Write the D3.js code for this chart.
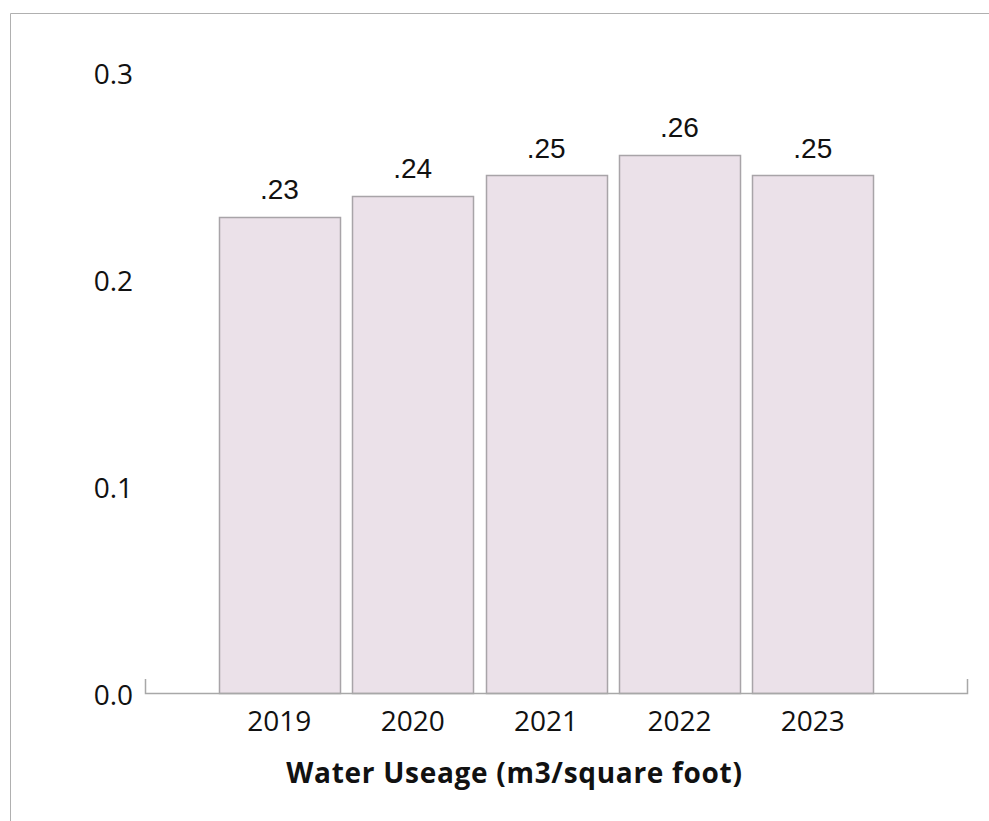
<!DOCTYPE html>
<html><head><meta charset="utf-8">
<script src="https://cdn.jsdelivr.net/npm/d3@7"></script>
<style>body{margin:0;background:#fff;} svg{display:block;}</style>
</head><body>
<svg id="chart" width="989" height="821"></svg>
<script>
const categories = ["2019","2020","2021","2022","2023"];
const values = [0.23,0.24,0.25,0.26,0.25];
const valueLabels = [".23",".24",".25",".26",".25"];
const yTicks = [0.0,0.1,0.2,0.3];
const yTickLabels = ["0.0","0.1","0.2","0.3"];
const axisTitle = "Water Useage (m3/square foot)";

const svg = d3.select("#chart");
// frame
svg.append("line").attr("x1",10.5).attr("x2",989).attr("y1",13.5).attr("y2",13.5).attr("stroke","#b0b0b0");
svg.append("line").attr("x1",10.5).attr("x2",10.5).attr("y1",13.5).attr("y2",821).attr("stroke","#b0b0b0");

const y = d3.scaleLinear().domain([0,0.3]).range([693,72]);
const x = d3.scaleBand().domain(categories).range([212.7,879.5]).paddingInner(0.094).paddingOuter(0.047);

const font = "'Open Sans', sans-serif";

// bars
svg.selectAll("rect.bar").data(values).join("rect")
  .attr("class","bar")
  .attr("x",(d,i)=>Math.round(x(categories[i]))+0.5)
  .attr("width",Math.round(x.bandwidth()))
  .attr("y",d=>Math.round(y(d))+0.5)
  .attr("height",d=>Math.round(y(0))-Math.round(y(d)))
  .attr("fill","#ebe1e9").attr("stroke","#a8a4a8").attr("stroke-width",1.5);

// value labels
svg.selectAll("text.val").data(values).join("text")
  .attr("class","val")
  .attr("x",(d,i)=>x(categories[i])+x.bandwidth()/2)
  .attr("y",d=>y(d)-18)
  .attr("text-anchor","middle")
  .attr("font-family","'Liberation Sans', Arial, sans-serif")
  .attr("font-size",28).attr("fill","#111")
  .text((d,i)=>valueLabels[i]);

// x axis baseline with end ticks
svg.append("path").attr("d","M145.5,679V693.5H967.5V679").attr("fill","none").attr("stroke","#a8a8a8").attr("stroke-width",1.5);

// y tick labels
svg.selectAll("text.yt").data(yTicks).join("text")
  .attr("class","yt")
  .attr("x",133).attr("y",d=>y(d)+12)
  .attr("text-anchor","end")
  .attr("font-family",font).attr("font-size",28).attr("fill","#111")
  .text((d,i)=>yTickLabels[i]);

// x tick labels
svg.selectAll("text.xt").data(categories).join("text")
  .attr("class","xt")
  .attr("x",d=>x(d)+x.bandwidth()/2).attr("y",731)
  .attr("text-anchor","middle")
  .attr("font-family",font).attr("font-size",28).attr("fill","#111")
  .text(d=>d);

svg.append("text").attr("x",514.5).attr("y",783).attr("text-anchor","middle")
  .attr("font-family",font).attr("font-size",28).attr("font-weight","bold")
  .attr("letter-spacing",0.7).attr("fill","#111")
  .text(axisTitle);
</script>
</body></html>
